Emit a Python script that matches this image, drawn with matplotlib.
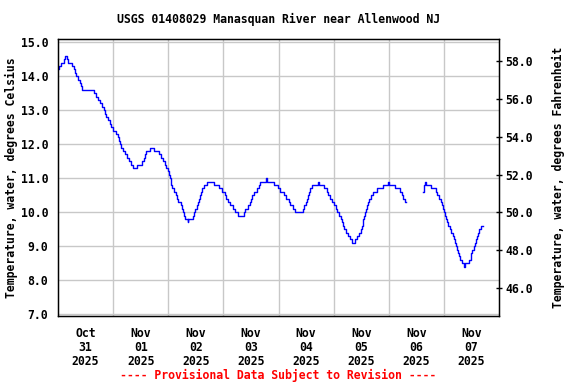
from datetime import datetime, timedelta

import matplotlib
matplotlib.use("Agg")
import matplotlib.pyplot as plt
import matplotlib.dates as mdates
from matplotlib.ticker import FormatStrFormatter, FixedLocator
import numpy as np


TITLE = "USGS 01408029 Manasquan River near Allenwood NJ"
FOOTER = "---- Provisional Data Subject to Revision ----"
START = datetime(2025, 10, 31)

# hours after Oct 31 00:00, water temperature (deg C); None marks a data gap
hours = [
    0, 0.5, 1.5, 2.5, 3, 4, 4.5, 6.3, 6.8, 7.3, 8, 8.7, 9.4, 10, 10.5,
    15.8, 16.6, 17.4, 18.4, 19.2, 20, 20.6, 21.1, 21.8, 22.5, 23.2, 24,
    25.2, 26, 26.5, 27, 27.6, 28.5, 29.3, 30.2, 31, 31.8, 32.6, 34.6,
    36.6, 37.3, 37.9, 38.5, 40, 42, 44, 44.8, 45.6, 46.4, 47.2, 47.8,
    48.3, 48.8, 49.1, 49.4, 49.7, 50.4, 51.2, 51.8, 52.3, 53.5, 54.1,
    54.6, 55.0, 55.4, 56.4, 56.8, 58.6, 59.1, 59.7, 60.3, 60.9, 61.4,
    61.8, 62.2, 62.7, 63.5, 65.0, 67.8, 70.2, 71.2, 72.5, 73.3, 74, 75,
    76.2, 77, 78.4, 80.8, 81.6, 82.6, 83.4, 84.1, 84.6, 85.2, 86.5, 87.3,
    88.1, 90.6, 90.8, 94.2, 95.6, 96.5, 98.2, 99.4, 100.4, 101.2, 102.3,
    103.3, 106.5, 107.2, 107.8, 108.3, 108.7, 109.1, 109.6, 110.8, 113.1,
    113.6, 115.8, 117, 117.7, 118.5, 119.5, 120.3, 121, 121.6, 122.4, 123,
    123.5, 124, 124.7, 125.4, 126.3, 127.2, 128, 129.4, 130.2, 131, 131.8,
    132.3, 132.6, 132.9, 133.2, 133.6, 134, 134.6, 135.1, 135.6, 136.2,
    137, 139, 141.3, 143.7, 144.3, 146.8, 148.8, 149.6, 150.3, 150.9,
    151.5, 151.6,
    159, 159.3, 159.8, 160.3, 162.5, 164.4, 165.2, 165.9, 166.6, 167.1,
    167.6, 168, 168.5, 169, 169.5, 170, 170.5, 171.2, 171.9, 172.4, 172.8,
    173.2, 173.7, 174.2, 174.6, 175.2, 175.9, 176.6, 177, 179, 179.6, 180,
    180.4, 180.9, 181.4, 181.9, 182.3, 182.8, 183.5, 184.2, 185.1,
]
temps = [
    14.2, 14.3, 14.4, 14.5, 14.6, 14.5, 14.4, 14.3, 14.2, 14.1, 14.0, 13.9,
    13.8, 13.7, 13.6,
    13.5, 13.4, 13.3, 13.2, 13.1, 13.0, 12.9, 12.8, 12.7, 12.6, 12.5, 12.4,
    12.3, 12.2, 12.1, 12.0, 11.9, 11.8, 11.7, 11.6, 11.5, 11.4, 11.3, 11.4,
    11.5, 11.6, 11.7, 11.8, 11.9, 11.8, 11.7, 11.6, 11.5, 11.4, 11.3, 11.2,
    11.1, 11.0, 10.9, 10.8, 10.7, 10.6, 10.5, 10.4, 10.3, 10.2, 10.1,
    10.0, 9.9, 9.8, 9.7, 9.8, 9.9, 10.0, 10.1, 10.2, 10.3, 10.4,
    10.5, 10.6, 10.7, 10.8, 10.9, 10.8, 10.7, 10.6, 10.5, 10.4, 10.3, 10.2,
    10.1, 10.0, 9.9, 10.0, 10.1, 10.2, 10.3, 10.4, 10.5, 10.6, 10.7, 10.8,
    10.9, 11.0, 10.9, 10.8, 10.7, 10.6, 10.5, 10.4, 10.3, 10.2, 10.1,
    10.0, 10.1, 10.2, 10.3, 10.4, 10.5, 10.6, 10.7, 10.8, 10.9,
    10.8, 10.7, 10.6, 10.5, 10.4, 10.3, 10.2, 10.1, 10.0, 9.9, 9.8,
    9.7, 9.6, 9.5, 9.4, 9.3, 9.2, 9.1, 9.2, 9.3, 9.4, 9.5,
    9.6, 9.7, 9.8, 9.9, 10.0, 10.1, 10.2, 10.3, 10.4, 10.5,
    10.6, 10.7, 10.8, 10.9, 10.8, 10.7, 10.6, 10.5, 10.4, 10.3,
    10.3, None,
    10.6, 10.8, 10.9, 10.8, 10.7, 10.6, 10.5, 10.4, 10.3, 10.2,
    10.1, 10.0, 9.9, 9.8, 9.7, 9.6, 9.5, 9.4, 9.3, 9.2, 9.1,
    9.0, 8.9, 8.8, 8.7, 8.6, 8.5, 8.4, 8.5, 8.6, 8.7, 8.8,
    8.9, 9.0, 9.1, 9.2, 9.3, 9.4, 9.5, 9.6, 9.6,
]

c_ticks = [7.0, 8.0, 9.0, 10.0, 11.0, 12.0, 13.0, 14.0, 15.0]
f_ticks = [46.0, 48.0, 50.0, 52.0, 54.0, 56.0, 58.0]
day_labels = ["Oct\n31\n2025", "Nov\n01\n2025", "Nov\n02\n2025", "Nov\n03\n2025",
              "Nov\n04\n2025", "Nov\n05\n2025", "Nov\n06\n2025", "Nov\n07\n2025"]

FONT = {"family": "DejaVu Sans Mono", "weight": "bold", "size": 8.3}
C_LIM = (6.95, 15.097)

times = [START + timedelta(hours=h) for h in hours]
vals = np.array([np.nan if v is None else v for v in temps], dtype=float)

fig = plt.figure(figsize=(5.76, 3.84), dpi=100)
ax = fig.add_axes([58 / 576, 1 - 316 / 384, 441 / 576, 277 / 384])

ax.plot(times, vals, color="#0000ff", lw=1.0, drawstyle="steps-post")

ax.set_xlim(START, START + timedelta(days=8))
ax.set_ylim(*C_LIM)

noon = [START + timedelta(days=i, hours=12) for i in range(len(day_labels))]
midnight = [START + timedelta(days=i) for i in range(1, 8)]
ax.xaxis.set_major_locator(FixedLocator(mdates.date2num(noon)))
ax.set_xticklabels(day_labels, fontdict=FONT, linespacing=1.1)
ax.xaxis.set_minor_locator(FixedLocator(mdates.date2num(midnight)))
ax.tick_params(axis="x", which="both", length=0, pad=8)
ax.grid(True, axis="x", which="minor", color="#c8c8c8", lw=1.0)

ax.set_yticks(c_ticks)
ax.yaxis.set_major_formatter(FormatStrFormatter("%.1f"))
ax.tick_params(axis="y", length=0, pad=7)
for lab in ax.get_yticklabels():
    lab.set_fontproperties(matplotlib.font_manager.FontProperties(**FONT))
ax.grid(True, axis="y", which="major", color="#c8c8c8", lw=1.0)
ax.set_axisbelow(True)

for s in ax.spines.values():
    s.set_color("black")
    s.set_linewidth(1.0)

ax.set_ylabel("Temperature, water, degrees Celsius", fontdict=FONT)
ax.yaxis.set_label_coords(-0.09, 0.5)

ax2 = ax.twinx()
ax2.set_ylim(C_LIM[0] * 1.8 + 32, C_LIM[1] * 1.8 + 32)
ax2.set_yticks(f_ticks)
ax2.yaxis.set_major_formatter(FormatStrFormatter("%.1f"))
ax2.tick_params(axis="y", direction="inout", length=5, width=1, pad=2)
for lab in ax2.get_yticklabels():
    lab.set_fontproperties(matplotlib.font_manager.FontProperties(**FONT))
ax2.set_ylabel("Temperature, water, degrees Fahrenheit", fontdict=FONT)
ax2.yaxis.set_label_coords(1.12, 0.5)

fig.text(278.5 / 576, 1 - 19 / 384, TITLE, ha="center", va="center", **FONT)
fig.text(278 / 576, 1 - 375 / 384, FOOTER, ha="center", va="center",
         color="red", **FONT)

fig.savefig("out.png", dpi=100)
